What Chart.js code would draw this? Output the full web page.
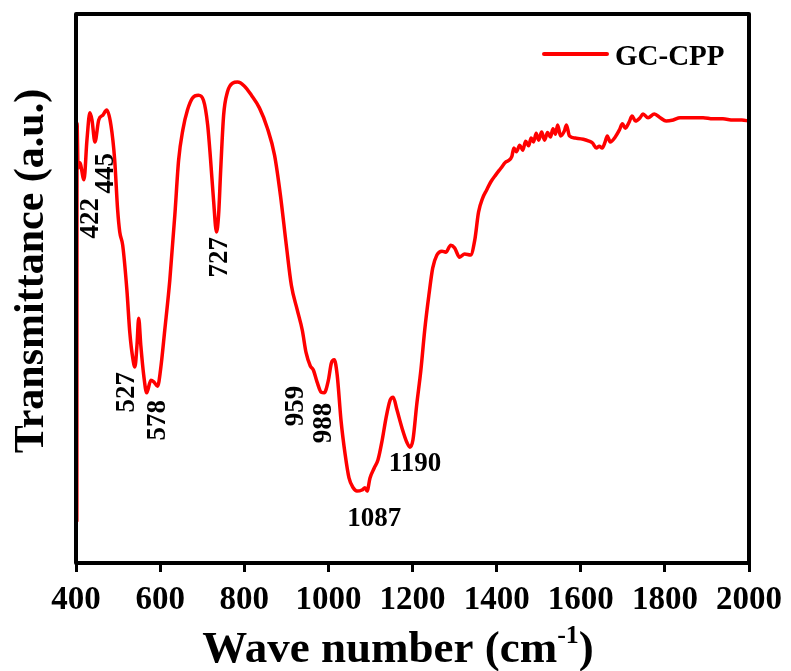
<!DOCTYPE html>
<html>
<head>
<meta charset="utf-8">
<script src="https://cdn.jsdelivr.net/npm/chart.js@4/dist/chart.umd.min.js"></script>
<style>
  html, body { margin: 0; padding: 0; background: #fff; }
  #wrap { width: 791px; height: 671px; position: relative; }
</style>
</head>
<body>
<div id="wrap"><canvas id="ftir"></canvas></div>
<script>
// FTIR spectrum of GC-CPP (transmittance in arbitrary units)
const waveNumber = [
  402, 402.5, 405, 409, 419, 426, 433, 438, 445, 454, 464, 473, 483, 492, 499, 504, 511, 521, 528, 535,
  540, 545, 549, 554, 561, 568, 578, 585, 594, 601, 611, 623, 635, 644, 654, 665, 677, 691, 703, 713,
  720, 727, 734, 739, 744, 751, 760, 772, 784, 800, 817, 836, 855, 872, 886, 900, 912, 926, 938, 947,
  957, 964, 973, 983, 990, 1000, 1007, 1014, 1021, 1030, 1040, 1049, 1059, 1068, 1080, 1087, 1092, 1099, 1109, 1118,
  1128, 1137, 1147, 1154, 1163, 1175, 1187, 1194, 1201, 1210, 1220, 1229, 1239, 1248, 1258, 1270, 1279, 1291, 1300, 1312,
  1324, 1338, 1348, 1357, 1367, 1376, 1386, 1398, 1410, 1421, 1428, 1436, 1441, 1447, 1455, 1462, 1469, 1476, 1482, 1488,
  1494, 1500, 1507, 1514, 1521, 1528, 1534, 1540, 1545, 1552, 1561, 1566, 1573, 1587, 1606, 1618, 1628, 1637, 1644, 1651,
  1658, 1663, 1670, 1682, 1692, 1699, 1706, 1715, 1722, 1730, 1741, 1748, 1760, 1775, 1789, 1803, 1820, 1836, 1860, 1891,
  1914, 1938, 1962, 1983, 2000
];
const transmittance = [
  7.5, 80.1, 71.9, 72.9, 69.8, 77.0, 82.0, 80.7, 76.7, 80.7, 81.6, 82.5, 79.8, 73.4, 64.3, 60.3, 57.9, 49.7, 41.9, 37.3,
  35.7, 39.7, 44.6, 39.7, 34.2, 31.0, 33.3, 33.0, 32.2, 35.2, 42.4, 51.5, 63.4, 73.4, 78.9, 82.5, 84.7, 85.2, 84.3, 79.8,
  73.4, 66.1, 60.3, 63.4, 71.6, 81.6, 85.8, 87.4, 87.6, 86.9, 85.2, 82.9, 79.2, 74.3, 67.0, 57.9, 50.6, 46.1, 42.4, 38.3,
  35.9, 35.2, 33.0, 31.1, 31.0, 33.3, 36.4, 37.0, 34.2, 26.0, 19.7, 15.5, 13.7, 13.1, 13.3, 13.7, 13.1, 15.5, 17.3, 18.8,
  22.4, 26.4, 29.7, 30.2, 27.9, 24.6, 21.9, 21.1, 22.4, 28.8, 35.2, 42.4, 48.8, 53.7, 56.1, 56.8, 56.6, 57.9, 57.4, 55.7,
  56.3, 56.1, 58.8, 63.9, 66.5, 67.9, 69.4, 70.7, 71.9, 73.0, 73.3, 74.0, 75.6, 74.9, 76.1, 75.2, 76.8, 76.0, 77.4, 76.7,
  78.3, 77.0, 78.5, 77.0, 78.4, 77.6, 79.1, 78.1, 79.8, 77.8, 78.7, 79.8, 77.8, 77.4, 77.2, 76.9, 76.5, 75.6, 75.9, 75.6,
  76.7, 77.8, 76.7, 77.6, 78.9, 80.0, 79.2, 80.3, 81.4, 80.5, 81.1, 81.8, 81.1, 81.8, 81.1, 80.5, 80.7, 81.1, 81.1, 81.1,
  80.9, 80.9, 80.7, 80.7, 80.5
];
const xTicks = [400, 600, 800, 1000, 1200, 1400, 1600, 1800, 2000];

// peak labels, placed in data units
const peakText = ['422', '445', '527', '578', '727', '959', '988', '1190', '1087'];
const peakAtX = [433, 469, 518, 592, 739, 921, 988, 1206, 1109];
const peakAtY = [62.8, 71.0, 31.1, 26.0, 55.7, 28.6, 25.5, 18.2, 8.2];
const peakRotated = [true, true, true, true, true, true, true, false, false];

const SERIF = "'Liberation Serif', 'Times New Roman', serif";

const decorations = {
  id: 'decorations',
  afterDraw(chart) {
    const { ctx, chartArea: a, scales } = chart;
    ctx.save();
    // frame
    ctx.strokeStyle = '#000';
    ctx.lineWidth = 4;
    ctx.lineJoin = 'round';
    ctx.strokeRect(a.left, a.top, a.right - a.left, a.bottom - a.top);

    // peak labels
    ctx.fillStyle = '#000';
    ctx.font = 'bold 27px ' + SERIF;
    ctx.textAlign = 'center';
    ctx.textBaseline = 'middle';
    peakText.forEach((t, i) => {
      const px = scales.x.getPixelForValue(peakAtX[i]);
      const py = scales.y.getPixelForValue(peakAtY[i]);
      ctx.save();
      ctx.translate(px, py);
      if (peakRotated[i]) ctx.rotate(-Math.PI / 2);
      ctx.fillText(t, 0, 1);
      ctx.restore();
    });

    // legend
    ctx.strokeStyle = '#ff0000';
    ctx.lineWidth = 4;
    ctx.lineCap = 'round';
    ctx.beginPath();
    ctx.moveTo(544, 54);
    ctx.lineTo(607, 54);
    ctx.stroke();
    ctx.font = 'bold 29px ' + SERIF;
    ctx.textAlign = 'left';
    ctx.textBaseline = 'alphabetic';
    ctx.fillText('GC-CPP', 615, 65);

    // y title
    ctx.save();
    ctx.translate(30, 271);
    ctx.rotate(-Math.PI / 2);
    ctx.font = 'bold 42px ' + SERIF;
    ctx.textAlign = 'center';
    ctx.textBaseline = 'middle';
    ctx.fillText('Transmittance (a.u.)', 0, 2);
    ctx.restore();

    // x title with superscript
    const main = 'Wave number (cm';
    const sup = '-1';
    const close = ')';
    ctx.font = 'bold 45px ' + SERIF;
    const w1 = ctx.measureText(main).width;
    const w3 = ctx.measureText(close).width;
    ctx.font = 'bold 26px ' + SERIF;
    const w2 = ctx.measureText(sup).width;
    let x0 = 398 - (w1 + w2 + w3) / 2;
    ctx.font = 'bold 45px ' + SERIF;
    ctx.fillText(main, x0, 662);
    ctx.font = 'bold 26px ' + SERIF;
    ctx.fillText(sup, x0 + w1, 643);
    ctx.font = 'bold 45px ' + SERIF;
    ctx.fillText(close, x0 + w1 + w2, 662);
    ctx.restore();
  }
};

new Chart(document.getElementById('ftir'), {
  type: 'line',
  data: {
    datasets: [{
      label: 'GC-CPP',
      data: waveNumber.map((w, i) => ({ x: w, y: transmittance[i] })),
      borderColor: '#ff0000',
      borderWidth: 3.5,
      pointRadius: 0,
      fill: false,
      cubicInterpolationMode: 'monotone'
    }]
  },
  options: {
    responsive: true,
    maintainAspectRatio: false,
    animation: false,
    events: [],
    layout: { padding: { top: 14, right: 40, left: 0, bottom: 0 } },
    plugins: { legend: { display: false }, tooltip: { enabled: false } },
    scales: {
      x: {
        type: 'linear',
        min: 400,
        max: 2000,
        afterBuildTicks: (s) => { s.ticks = xTicks.map(v => ({ value: v })); },
        afterFit: (s) => { s.height = 108; },
        border: { display: false },
        grid: { drawOnChartArea: false, drawTicks: true, tickLength: 9, lineWidth: 3, color: '#000' },
        ticks: {
          color: '#000',
          padding: 9,
          maxRotation: 0,
          autoSkip: false,
          callback: (v) => String(v),
          font: { family: SERIF, size: 33, weight: 'bold' }
        }
      },
      y: {
        min: 0,
        max: 100,
        afterFit: (s) => { s.width = 76; },
        border: { display: false },
        grid: { display: false },
        ticks: { display: false }
      }
    }
  },
  plugins: [decorations]
});
</script>
</body>
</html>
